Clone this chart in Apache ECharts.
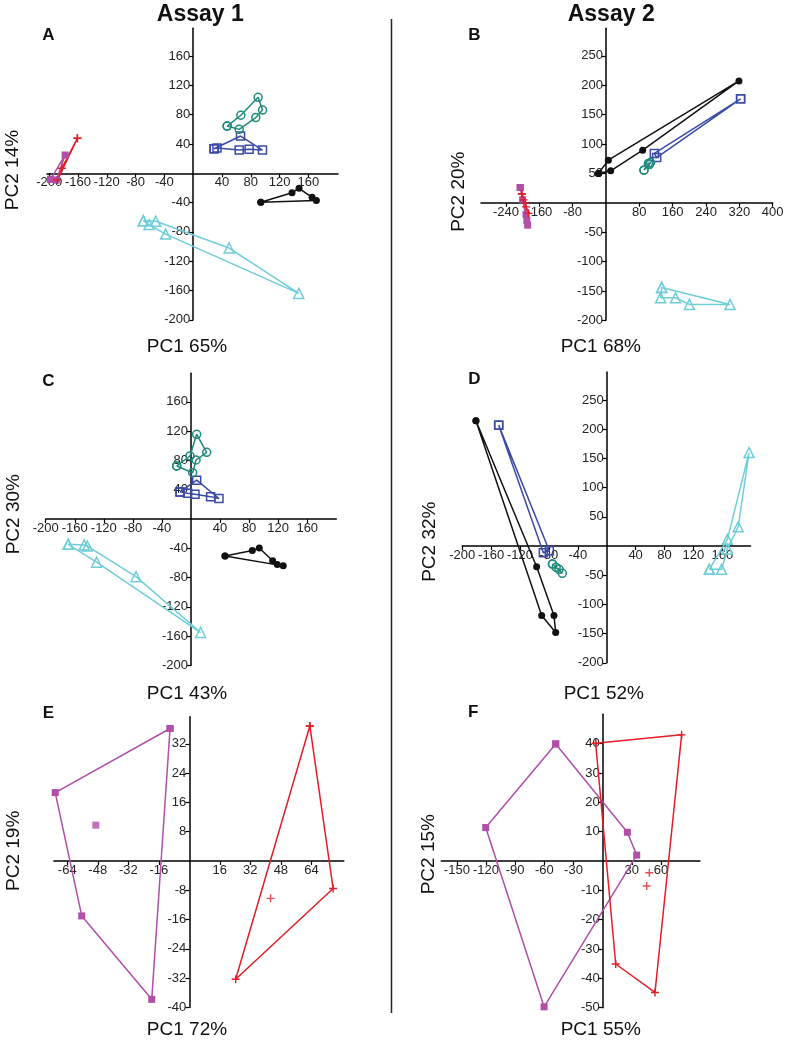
<!DOCTYPE html>
<html><head><meta charset="utf-8">
<script src="https://cdn.jsdelivr.net/npm/echarts@6/dist/echarts.min.js"></script>
<style>html,body{margin:0;padding:0;background:#fff}#c{width:789px;height:1041px}</style>
</head><body><div id="c"></div>
<script>
// ---------- Panel A (Assay 1) ----------
const A_teal    = [[47.1,64.5],[66.1,79.3],[90.1,103.8],[96.2,86.4],[86.9,76.1],[63.8,60]];
const A_blue    = [[29,33.5],[65.7,50.9],[96.2,31.8],[77.6,32.8],[63.8,31.8],[33,34.5]];
const A_black   = [[93.8,-39.6],[137.2,-26.5],[146.9,-20.5],[165,-32.8],[171,-37]];
const A_cyan    = [[-69.3,-64.7],[-52.1,-65.5],[49.9,-102],[146.5,-164],[-38.3,-83],[-61.4,-70]];
const A_magenta = [[-198,-8.2],[-177.8,25],[-190,-9]];
const A_red     = [[-160.8,47.8],[-182.4,7],[-188.5,-9]];
// ---------- Panel B (Assay 2) ----------
const B_black   = [[-18.4,49.9],[5.6,72.6],[319,207.5],[88,89.6],[11.2,54.4]];
const B_blue    = [[323,177],[116,84],[121.6,77]];
const B_teal    = [[91,55.6],[101.6,67],[107,68.6],[104,65]];
const B_cyan    = [[133.6,-144],[297.6,-173],[200,-173],[167,-161.6],[131,-161.6]];
const B_magenta = [[-206,26],[-200,5],[-192,-20],[-190,-30],[-188,-38]];
const B_red     = [[-202,15],[-198,5],[-194,-1],[-192,-7],[-186,-18]];
// ---------- Panel C (Assay 1) ----------
const C_teal    = [[-19.7,72.4],[-1.4,86],[7.8,115.6],[21.6,91],[6.9,80.5],[2.3,63.2]];
const C_blue    = [[-15,37],[7.8,53],[38.5,28],[27,30.5],[5.5,33.7],[-4.6,35]];
const C_black   = [[46.8,-50.5],[84.4,-43],[94,-39.6],[112.4,-57],[118.8,-62],[127,-64]];
const C_cyan    = [[-169,-34.6],[-147,-35.5],[-142.7,-37],[-75.7,-78.7],[13.3,-155],[-130,-59]];
// ---------- Panel D (Assay 2) ----------
const D_black   = [[-181,214.6],[-90,-119],[-70.6,-148],[-73,-119],[-97,-35.4]];
const D_blue    = [[-149.5,207],[-79.4,-8],[-87.7,-11.4]];
const D_teal    = [[-75,-31],[-70,-36.5],[-66,-40],[-61.4,-46.8]];
const D_cyan    = [[142,-40],[167,11.4],[197,160],[182,33],[167,-5],[159,-40]];
// ---------- Panel E (Assay 1) ----------
const E_magenta = [[-10.1,36.2],[-70.3,18.7],[-56.4,-15],[-19.7,-37.8]];
const E_magentaLoose = [[-49,9.8]];
const E_red     = [[63.2,36.9],[75.4,-7.5],[24.3,-32.3]];
const E_redLoose = [[42.6,-10.2]];
// ---------- Panel F (Assay 2) ----------
const F_magenta = [[-48.3,39.9],[25.4,9.8],[35,2],[-60.3,-49.7],[-120.3,11.4]];
const F_red     = [[-7.2,40.1],[81.2,43],[53.8,-44.8],[13.4,-35.1]];
const F_redLoose = [[48,-4],[45.3,-8.5]];

// ---------- Tick labels ----------
const ticks40   = [-200,-160,-120,-80,-40,40,80,120,160];
const ticksB_x  = [-240,-160,-80,80,160,240,320,400];
const ticks50   = [-200,-150,-100,-50,50,100,150,200,250];
const ticksE_x  = [-64,-48,-32,-16,16,32,48,64];
const ticksE_y  = [-40,-32,-24,-16,-8,8,16,24,32];
const ticksF_x  = [-150,-120,-90,-60,-30,30,60];
const ticksF_y  = [-50,-40,-30,-20,-10,10,20,30,40];

const COL = {teal:'#1e8a7c', blue:'#3a4aa6', black:'#111111', cyan:'#6fcdd8', magenta:'#b04ea8', red:'#e31e26'};
const PLUS = 'path://M3.3,0H4.7V3.3H8V4.7H4.7V8H3.3V4.7H0V3.3H3.3Z';
const STY = {
  teal:   {symbol:'circle', size:8, open:true},
  blue:   {symbol:'rect', size:8, open:true},
  black:  {symbol:'circle', size:7, open:false},
  cyan:   {symbol:'triangle', size:10, open:true},
  magenta:{symbol:'rect', size:7, open:false},
  red:    {symbol:PLUS, size:8, open:false}
};

const panels = [
  {grid:{left:47,top:28.3,width:291,height:291.5}, x:[-203,201,ticks40], y:[-200,198,ticks40],
   groups:[['cyan',A_cyan],['black',A_black],['blue',A_blue],['teal',A_teal],['magenta',A_magenta],['red',A_red]], loose:[]},
  {grid:{left:481,top:28.3,width:291.7,height:292}, x:[-300,400,ticksB_x], y:[-200,297,ticks50],
   groups:[['cyan',B_cyan],['black',B_black],['blue',B_blue],['teal',B_teal],['magenta',B_magenta],['red',B_red]], loose:[]},
  {grid:{left:45.7,top:373.2,width:290.6,height:292.3}, x:[-200,200,ticks40], y:[-200,199,ticks40],
   groups:[['cyan',C_cyan],['black',C_black],['blue',C_blue],['teal',C_teal]], loose:[]},
  {grid:{left:462.2,top:372,width:288.3,height:290.8}, x:[-200,199,ticks40], y:[-200,298,ticks50],
   groups:[['cyan',D_cyan],['black',D_black],['blue',D_blue],['teal',D_teal]], loose:[]},
  {grid:{left:53.9,top:716.8,width:289.9,height:290.6}, x:[-71,81,ticksE_x], y:[-40,39.4,ticksE_y],
   groups:[['magenta',E_magenta],['red',E_red]], loose:[['magenta',E_magentaLoose],['red',E_redLoose]]},
  {grid:{left:441.3,top:714.3,width:258.6,height:293.4}, x:[-166,100,ticksF_x], y:[-50,50,ticksF_y],
   groups:[['magenta',F_magenta],['red',F_red]], loose:[['red',F_redLoose]]}
];

function closed(pts){ return pts.concat([pts[0]]); }
const FONT = 'Liberation Sans, Arial, sans-serif';
const grids=[], xAxes=[], yAxes=[], series=[];
// axes cross at zero: shift each axis from the grid edge to the other axis' zero
function axis(i, mm, isX, off){
  return {
    gridIndex:i, type:'value', min:mm[0], max:mm[1], position: isX?'bottom':'left', offset:off,
    axisLine:{show:true, onZero:false, lineStyle:{color:'#000', width:1.5}},
    axisTick:{show:true, length:4, lineStyle:{color:'#000', width:1.2}, customValues:mm[2]},
    axisLabel:{show:true, customValues:mm[2], fontSize:13, color:'#222', margin:3, fontFamily:FONT, hideOverlap:false},
    splitLine:{show:false}
  };
}
function markerStyle(name){
  const s = STY[name], c = COL[name];
  return {
    symbol:s.symbol, symbolSize:s.size,
    itemStyle: s.open ? {color:'rgba(255,255,255,0)', borderColor:c, borderWidth:1.5}
                      : {color:c, borderWidth:0}
  };
}
panels.forEach((p,i)=>{
  const g = p.grid;
  grids.push(Object.assign({containLabel:false}, g));
  const xOff = -g.height * (0 - p.y[0]) / (p.y[1] - p.y[0]);
  const yOff = -g.width  * (0 - p.x[0]) / (p.x[1] - p.x[0]);
  xAxes.push(axis(i,p.x,true,xOff));
  yAxes.push(axis(i,p.y,false,yOff));
  p.groups.forEach(([name,pts])=>{
    const m = markerStyle(name);
    series.push({type:'line', xAxisIndex:i, yAxisIndex:i, data:closed(pts),
      symbol:m.symbol, symbolSize:m.symbolSize, showSymbol:true, showAllSymbol:true,
      itemStyle:m.itemStyle, lineStyle:{color:COL[name], width:1.5}, silent:true, z:3});
  });
  p.loose.forEach(([name,pts])=>{
    const m = markerStyle(name);
    series.push({type:'scatter', xAxisIndex:i, yAxisIndex:i, data:pts,
      symbol:m.symbol, symbolSize:m.symbolSize, itemStyle:m.itemStyle, silent:true, z:3});
  });
});

function txt(x,y,t,size,bold,rot){
  return {type:'text', x:x, y:y, rotation:rot||0, silent:true,
    style:{text:t, fontSize:size, fontWeight:bold?'bold':'normal', fontFamily:FONT, fill:'#111', align:'center', verticalAlign:'middle'}};
}
const graphics = [
  {type:'line', silent:true, shape:{x1:391.5,y1:19,x2:391.5,y2:1013}, style:{stroke:'#222', lineWidth:1.5}},
  txt(200.3,15,'Assay 1',23,true), txt(611.2,15,'Assay 2',23,true),
  txt(48.3,35,'A',17,true), txt(474.3,35,'B',17,true),
  txt(48.3,381.7,'C',17,true), txt(474.3,379.3,'D',17,true),
  txt(48.3,713.3,'E',17,true), txt(473.3,712.7,'F',17,true),
  txt(187,346.7,'PC1 65%',19), txt(600.8,346.7,'PC1 68%',19),
  txt(187,693.3,'PC1 43%',19), txt(603.8,693.3,'PC1 52%',19),
  txt(187,1029.3,'PC1 72%',19), txt(600.8,1029.3,'PC1 55%',19),
  txt(12.5,170,'PC2 14%',19,false,Math.PI/2), txt(458.3,191.7,'PC2 20%',19,false,Math.PI/2),
  txt(14,514.2,'PC2 30%',19,false,Math.PI/2), txt(429.3,541.7,'PC2 32%',19,false,Math.PI/2),
  txt(14,850.8,'PC2 19%',19,false,Math.PI/2), txt(429,854.2,'PC2 15%',19,false,Math.PI/2)
];

const chart = echarts.init(document.getElementById('c'), null, {renderer:'canvas'});
chart.setOption({
  animation:false, backgroundColor:'#fff',
  grid:grids, xAxis:xAxes, yAxis:yAxes, series:series, graphic:graphics
});
</script></body></html>
